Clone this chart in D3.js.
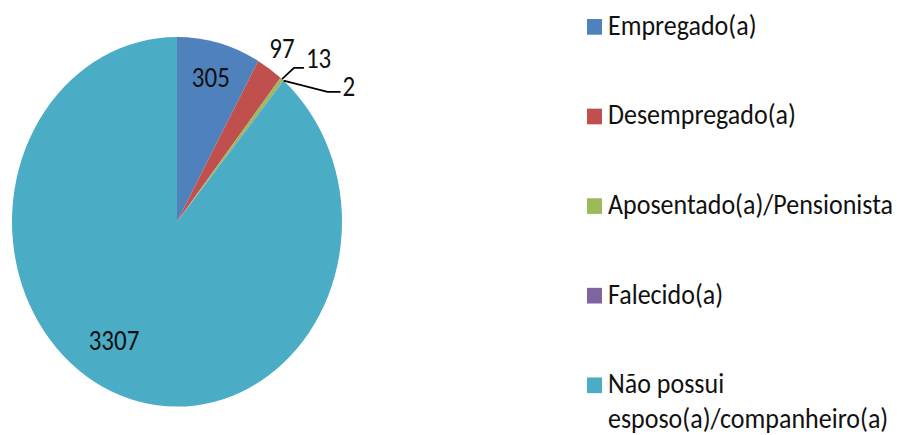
<!DOCTYPE html>
<html>
<head>
<meta charset="utf-8">
<script src="https://cdn.jsdelivr.net/npm/d3@7"></script>
<style>
  body { margin: 0; background: #fff; }
  text { font-family: Carlito, Lato, "Open Sans", sans-serif; fill: #111; }
</style>
</head>
<body>
<div class="canvas"></div>
<script>
// data
const categories = ["Empregado(a)", "Desempregado(a)", "Aposentado(a)/Pensionista", "Falecido(a)", "Não possui esposo(a)/companheiro(a)"]
const legendLines = [["Empregado(a)"], ["Desempregado(a)"], ["Aposentado(a)/Pensionista"], ["Falecido(a)"], ["Não possui", "esposo(a)/companheiro(a)"]]
const values = [305, 97, 13, 2, 3307]
const colorList = ["#4F81BD", "#C0504D", "#9BBB59", "#8064A2", "#4BACC6"]

const width = 903, height = 435
const stretch = 1.12   // the original picture is stretched vertically
const cx = 177, cy = 198, R = 165

const svg = d3.select(".canvas")
  .append("svg")
  .attr("width", width)
  .attr("height", height)

const root = svg.append("g").attr("transform", `scale(1,${stretch})`)

let colors = d3.scaleOrdinal().domain(categories).range(colorList)
let pieData = d3.pie().sort(null).value(d => d.value)(categories.map((c, i) => ({ name: c, value: values[i] })))

let segment = d3.arc().innerRadius(0).outerRadius(R)
let inLabel = d3.arc().innerRadius(133).outerRadius(133)
let outLabel = d3.arc().innerRadius(R + 22).outerRadius(R + 22)
let edge = d3.arc().innerRadius(R).outerRadius(R)

const pie = root.append("g").attr("transform", `translate(${cx},${cy})`)

pie.selectAll("path")
  .data(pieData)
  .enter()
  .append("path")
  .attr("d", segment)
  .attr("fill", d => colors(d.data.name))

// labels: big slices inside, small ones outside (last two moved out with leader lines)
const leaderOffsets = { 2: { bend: [12, -10], end: [22, -10], dy: -8 }, 3: { bend: [44, 10], end: [57, 10], dy: -5 } }

pieData.forEach((d, i) => {
  let t = pie.append("text")
    .attr("text-anchor", "middle")
    .attr("dominant-baseline", "central")
    .style("font-size", "25px")
    .text(d.data.value)
  if (d.data.value > 200) {
    let [x, y] = inLabel.centroid(d)
    if (i === 4) { x = -63; y = 106 }
    t.attr("x", x).attr("y", y)
  } else if (leaderOffsets[i]) {
    let p = edge.centroid(d)
    let o = leaderOffsets[i]
    pie.append("path")
      .attr("d", d3.line()([p, [p[0] + o.bend[0], p[1] + o.bend[1]], [p[0] + o.end[0], p[1] + o.end[1]]]))
      .attr("fill", "none")
      .attr("stroke", "#000")
      .attr("stroke-width", 1.6)
    t.attr("text-anchor", "start").attr("x", p[0] + o.end[0] + 2).attr("y", p[1] + o.end[1] + o.dy)
  } else {
    let [x, y] = outLabel.centroid(d)
    t.attr("x", x).attr("y", y)
  }
})

// legend
const legend = root.append("g").attr("transform", "translate(587,0)")
const rowY = d3.scalePoint().domain(categories).range([24, 344])

categories.forEach((c, i) => {
  let g = legend.append("g").attr("transform", `translate(0,${rowY(c)})`)
  g.append("rect")
    .attr("x", 0).attr("y", -7)
    .attr("width", 15).attr("height", 14)
    .attr("fill", colors(c))
  legendLines[i].forEach((line, j) => {
    g.append("text")
      .attr("x", 21)
      .attr("y", 7 + j * 31)
      .style("font-size", "26px")
      .text(line)
  })
})
</script>
</body>
</html>
